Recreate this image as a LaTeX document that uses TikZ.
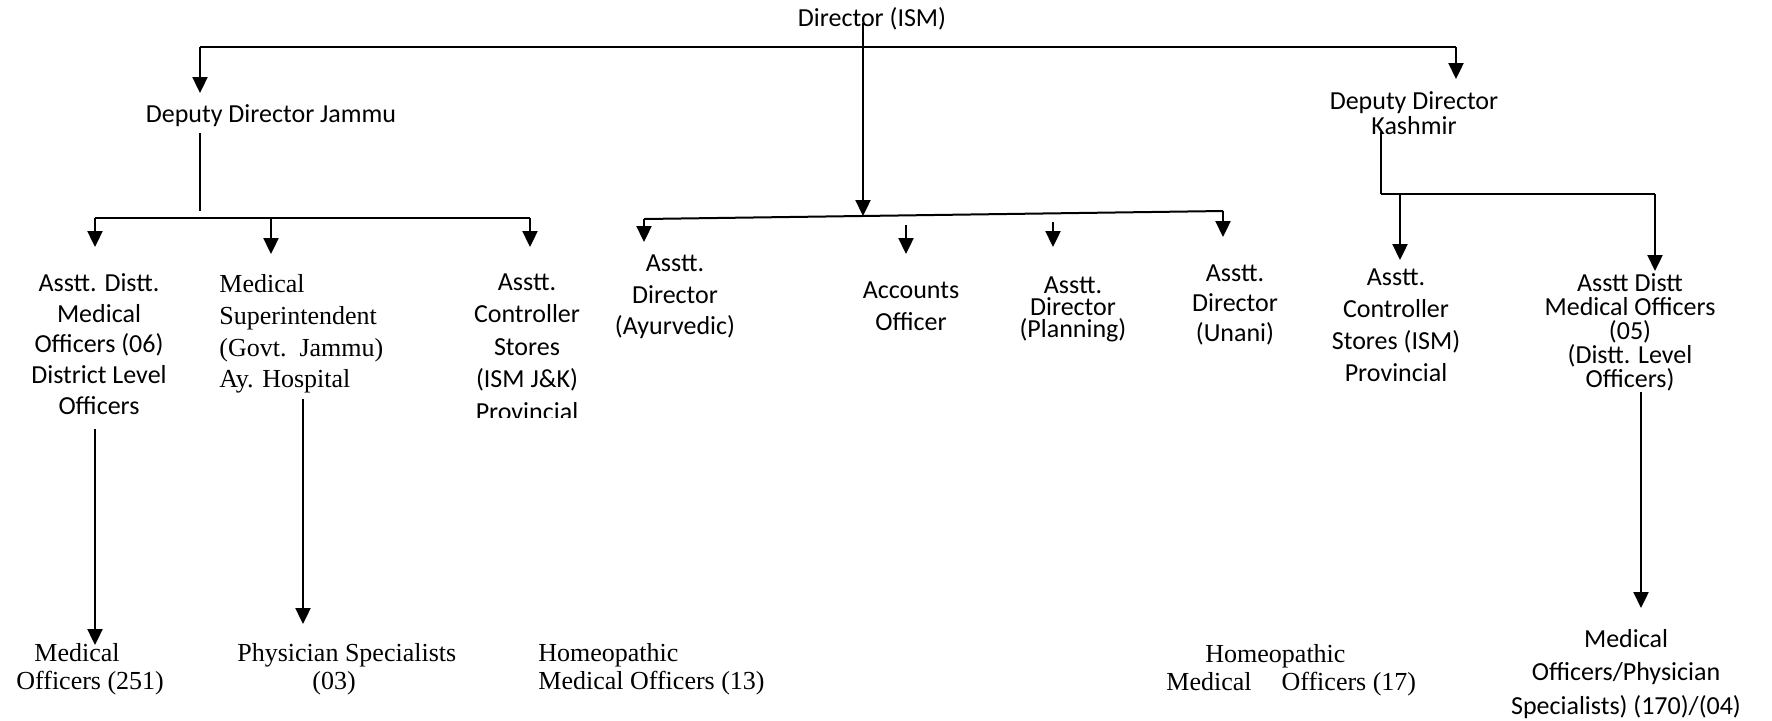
\documentclass[tikz,border=0pt]{standalone}
\usepackage{fontspec}
\setmainfont{Carlito}
\newfontfamily\tnr{Liberation Serif}
\usetikzlibrary{arrows.meta}
\begin{document}
\begin{tikzpicture}[x=0.5pt,y=-0.5pt,
  lbl/.style={inner sep=0pt, align=center},
  ser/.style={inner sep=0pt, align=left, anchor=west},
  arr/.style={line width=1.15pt, -{Triangle[length=8pt,width=7.5pt]}},
  bus/.style={line width=1pt},
  thinline/.style={line width=0.55pt}]
\useasboundingbox (0,0) rectangle (1772,720);
\fill[white] (0,0) rectangle (1772,720);

% ---- top level
\node[lbl, font=\fontsize{13}{16}\selectfont] (dir) at (872,19) {Director (ISM)};
\node[lbl, font=\fontsize{13}{16}\selectfont] (ddj) at (271,116) {Deputy Director Jammu};
\node[lbl, font=\fontsize{13}{12.5}\selectfont] (ddk) at (1414,113) {Deputy Director\\Kashmir};

% ---- second level (sans)
\node[lbl, font=\fontsize{13}{15.4}\selectfont] (n1) at (99,344)
  {Asstt. Distt.\\Medical\\Officers (06)\\District Level\\Officers};
\node[ser, font=\tnr\fontsize{13}{15.8}\selectfont] (n2) at (219,334)
  {Medical\\Superintendent\\(Govt.\ \ Jammu)\\Ay. Hospital};
\begin{scope}
  \clip (420,250) rectangle (640,417);
  \node[lbl, font=\fontsize{13}{16.2}\selectfont] (n3) at (527,347)
    {Asstt.\\Controller\\Stores\\(ISM J\&K)\\Provincial};
\end{scope}
\node[lbl, font=\fontsize{13}{15.7}\selectfont] (n4) at (675,297) {Asstt.\\Director\\(Ayurvedic)};
\node[lbl, font=\fontsize{13}{16}\selectfont] (n5) at (911,306) {Accounts\\Officer};
\node[lbl, font=\fontsize{13}{11}\selectfont] (n6) at (1073,309) {Asstt.\\Director\\(Planning)};
\node[lbl, font=\fontsize{13}{15}\selectfont] (n7) at (1235,305) {Asstt.\\Director\\(Unani)};
\node[lbl, font=\fontsize{13}{16}\selectfont] (n8) at (1396,325) {Asstt.\\Controller\\Stores (ISM)\\Provincial};
\node[lbl, font=\fontsize{13}{12}\selectfont] (n9) at (1630,332)
  {Asstt Distt\\Medical Officers\\(05)\\(Distt. Level\\Officers)};

% ---- bottom level
\node[ser, font=\tnr\fontsize{13}{14}\selectfont] (n10) at (16,669)
  {\hspace*{9pt}Medical\\Officers (251)};
\node[ser, font=\tnr\fontsize{13}{14}\selectfont] (n11) at (237,669)
  {Physician Specialists\\\hspace*{37.5pt}(03)};
\node[ser, font=\tnr\fontsize{13}{14}\selectfont] (n12) at (538,669)
  {Homeopathic\\Medical Officers (13)};
\node[ser, font=\tnr\fontsize{13}{14}\selectfont] (n13) at (1166,670)
  {\hspace*{19.5pt}Homeopathic\\Medical\hspace{15pt}Officers (17)};
\node[lbl, font=\fontsize{13}{16.6}\selectfont] (n14) at (1626,674)
  {Medical\\Officers/Physician\\Specialists) (170)/(04)};

% ---- coordinates for connector ends
\coordinate (dA) at (863,23);   \coordinate (dB) at (863,216);
\coordinate (tL) at (200,47);   \coordinate (tR) at (1456,47);
\coordinate (tLe) at (200,93);  \coordinate (tRe) at (1456,79);
\coordinate (jA) at (200,133);  \coordinate (jB) at (200,211);
\coordinate (jL) at (95,218);   \coordinate (jM) at (271,218); \coordinate (jR) at (530,218);
\coordinate (jLe) at (95,247);  \coordinate (jMe) at (271,254); \coordinate (jRe) at (530,247);
\coordinate (mL) at (644,219);  \coordinate (mR) at (1223,211);
\coordinate (mLe) at (644,242); \coordinate (mRe) at (1223,237);
\coordinate (aS) at (906,225);  \coordinate (aE) at (906,254);
\coordinate (pS) at (1053,222); \coordinate (pE) at (1053,247);
\coordinate (kA) at (1381,132); \coordinate (kB) at (1381,194); \coordinate (kR) at (1655,194);
\coordinate (kM) at (1400,194);
\coordinate (kMe) at (1400,260); \coordinate (kRe) at (1655,271);
\coordinate (b1S) at (95,429);   \coordinate (b1E) at (95,645);
\coordinate (b2S) at (303,399);  \coordinate (b2E) at (303,624);
\coordinate (b3S) at (1641,392); \coordinate (b3E) at (1641,608);

% ---- connectors
\draw[bus] (tL) -- (tR);
\draw[arr] (tL) -- (tLe);
\draw[arr] (tR) -- (tRe);
\draw[arr] (dA) -- (dB);

\draw[thinline] (jA) -- (jB);
\draw[bus] (jL) -- (jR);
\draw[arr] (jL) -- (jLe);
\draw[arr] (jM) -- (jMe);
\draw[arr] (jR) -- (jRe);

\draw[bus] (mL) -- (mR);
\draw[arr] (mL) -- (mLe);
\draw[arr] (mR) -- (mRe);
\draw[arr] (aS) -- (aE);
\draw[arr] (pS) -- (pE);

\draw[thinline] (kA) -- (kB);
\draw[bus] (kB) -- (kR);
\draw[arr] (kM) -- (kMe);
\draw[arr] (kR) -- (kRe);

\draw[arr] (b1S) -- (b1E);
\draw[arr] (b2S) -- (b2E);
\draw[arr] (b3S) -- (b3E);
\end{tikzpicture}
\end{document}
